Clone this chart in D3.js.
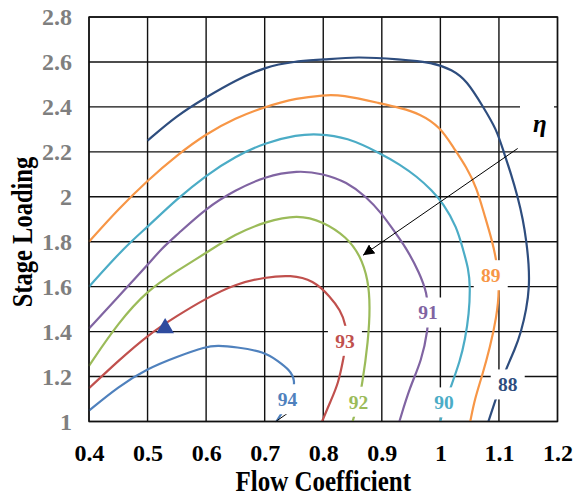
<!DOCTYPE html>
<html>
<head>
<meta charset="utf-8">
<script src="https://cdn.jsdelivr.net/npm/d3@7"></script>
<style>
  body { margin: 0; background: #fff; }
  text { font-family: "Liberation Serif", "Times New Roman", serif; font-weight: bold; }
</style>
</head>
<body>
<svg width="578" height="496"></svg>
<script>
// tick values / labels
const xTicks = [0.4, 0.5, 0.6, 0.7, 0.8, 0.9, 1.0, 1.1, 1.2];
const xTickLabels = ['0.4', '0.5', '0.6', '0.7', '0.8', '0.9', '1', '1.1', '1.2'];
const yTicks = [1, 1.2, 1.4, 1.6, 1.8, 2, 2.2, 2.4, 2.6, 2.8];
const yTickLabels = ['1', '1.2', '1.4', '1.6', '1.8', '2', '2.2', '2.4', '2.6', '2.8'];

// efficiency contour lines (flow coefficient, stage loading)
const c88 = [[0.5,2.25],[0.55,2.362],[0.6,2.443],[0.65,2.518],[0.7,2.577],[0.75,2.603],[0.8,2.61],[0.857,2.624],[0.93,2.612],[0.987,2.598],[1.02,2.565],[1.045,2.518],[1.073,2.4],[1.096,2.3],[1.108,2.2],[1.121,2.1],[1.132,2.0],[1.141,1.9],[1.147,1.8],[1.151,1.7],[1.152,1.6],[1.147,1.5],[1.138,1.4],[1.127,1.318],[1.112,1.236],[1.096,1.11],[1.082,1.0]];
const c89 = [[0.4,1.8],[0.45,1.945],[0.5,2.073],[0.55,2.185],[0.6,2.28],[0.65,2.35],[0.7,2.40],[0.756,2.44],[0.8,2.452],[0.83,2.455],[0.9,2.414],[0.931,2.396],[0.965,2.37],[1.0,2.31],[1.022,2.22],[1.045,2.13],[1.062,2.04],[1.074,1.93],[1.089,1.8],[1.097,1.7],[1.101,1.584],[1.096,1.466],[1.085,1.332],[1.071,1.2],[1.059,1.103],[1.051,1.0]];
const c90 = [[0.4,1.6],[0.461,1.777],[0.5,1.866],[0.55,1.99],[0.6,2.096],[0.65,2.18],[0.7,2.24],[0.756,2.276],[0.79,2.28],[0.84,2.266],[0.9,2.19],[0.93,2.145],[0.96,2.09],[0.985,2.03],[1.005,1.97],[1.028,1.866],[1.039,1.762],[1.048,1.68],[1.051,1.6],[1.049,1.48],[1.042,1.362],[1.034,1.273],[1.018,1.155],[1.005,1.06],[1.0,1.0]];
const c91 = [[0.4,1.414],[0.45,1.555],[0.5,1.696],[0.524,1.77],[0.55,1.83],[0.6,1.95],[0.65,2.03],[0.7,2.09],[0.756,2.118],[0.8,2.103],[0.84,2.066],[0.874,1.999],[0.9,1.925],[0.92,1.851],[0.94,1.78],[0.965,1.659],[0.977,1.57],[0.98,1.49],[0.979,1.414],[0.968,1.27],[0.948,1.155],[0.93,1.0]];
const c92 = [[0.4,1.248],[0.45,1.44],[0.5,1.584],[0.55,1.67],[0.6,1.75],[0.65,1.835],[0.7,1.888],[0.756,1.922],[0.8,1.89],[0.84,1.821],[0.863,1.74],[0.877,1.629],[0.88,1.51],[0.877,1.362],[0.866,1.155],[0.86,1.085],[0.85,1.0]];
const c93 = [[0.4,1.148],[0.45,1.27],[0.5,1.384],[0.55,1.47],[0.6,1.548],[0.65,1.612],[0.7,1.642],[0.745,1.652],[0.783,1.629],[0.812,1.555],[0.829,1.496],[0.839,1.429],[0.84,1.36],[0.835,1.288],[0.826,1.17],[0.812,1.088],[0.798,1.0]];
const c94 = [[0.4,1.048],[0.45,1.155],[0.5,1.236],[0.55,1.288],[0.6,1.334],[0.62,1.338],[0.65,1.332],[0.7,1.31],[0.722,1.27],[0.743,1.229],[0.752,1.184],[0.748,1.12],[0.731,1.044],[0.72,1.0]];

const contours = [
  { level: '88', color: '#2E4D7E', pts: c88, label: [1.115, 1.165] },
  { level: '89', color: '#F79646', pts: c89, label: [1.086, 1.651] },
  { level: '90', color: '#4BACC6', pts: c90, label: [1.006, 1.085] },
  { level: '91', color: '#8064A2', pts: c91, label: [0.979, 1.485] },
  { level: '92', color: '#9BBB59', pts: c92, label: [0.86, 1.088] },
  { level: '93', color: '#C0504D', pts: c93, label: [0.837, 1.359] },
  { level: '94', color: '#4F81BD', pts: c94, label: [0.739, 1.099] }
];

// design point, arrow and leader
const designPoint = [[0.53, 1.415]];
const arrowLine = [[1.132, 2.215], [0.868, 1.74]];
const leader94 = [[0.743, 1.044], [0.719, 1.0]];
const etaPos = [1.17, 2.29];

const svg = d3.select('svg');
const pLeft = 89, pRight = 557.5, pTop = 17, pBottom = 421.5;

const x = d3.scaleLinear().domain([0.4, 1.2]).range([pLeft, pRight]);
const y = d3.scaleLinear().domain([1, 2.8]).range([pBottom, pTop]);

// grid
svg.append('g').selectAll('line')
  .data(xTicks)
  .enter()
  .append('line')
    .attr('x1', d => x(d)).attr('x2', d => x(d))
    .attr('y1', pTop).attr('y2', pBottom)
    .attr('stroke', '#111').attr('stroke-width', 1.4);

svg.append('g').selectAll('line')
  .data(yTicks)
  .enter()
  .append('line')
    .attr('x1', pLeft).attr('x2', pRight)
    .attr('y1', d => y(d)).attr('y2', d => y(d))
    .attr('stroke', '#111').attr('stroke-width', 1.4);

// contours
let line = d3.line()
  .x(d => x(d[0]))
  .y(d => y(d[1]))
  .curve(d3.curveBasis);

svg.append('g').selectAll('path')
  .data(contours)
  .enter()
  .append('path')
    .attr('d', d => line(d.pts))
    .attr('fill', 'none')
    .attr('stroke', d => d.color)
    .attr('stroke-width', 2.2);

// arrow
svg.append('defs').append('marker')
  .attr('id', 'arr')
  .attr('viewBox', '0 0 10 10')
  .attr('refX', 10).attr('refY', 5)
  .attr('markerWidth', 11).attr('markerHeight', 11)
  .attr('markerUnits', 'userSpaceOnUse')
  .attr('orient', 'auto')
  .append('path')
    .attr('d', 'M0,0 L10,5 L0,10 z')
    .attr('fill', '#000');

let straight = d3.line().x(d => x(d[0])).y(d => y(d[1]));

svg.append('path')
  .attr('d', straight(arrowLine))
  .attr('stroke', '#000').attr('stroke-width', 1)
  .attr('marker-end', 'url(#arr)');

svg.append('path')
  .attr('d', straight(leader94))
  .attr('stroke', '#000').attr('stroke-width', 1);

// contour labels with white boxes
let lab = svg.append('g').selectAll('g')
  .data(contours)
  .enter()
  .append('g')
    .attr('transform', d => `translate(${x(d.label[0])},${y(d.label[1])})`);

lab.append('rect')
  .attr('x', -17).attr('y', -15)
  .attr('width', 34).attr('height', 30)
  .attr('fill', '#fff');

lab.append('text')
  .attr('text-anchor', 'middle')
  .attr('dy', '0.35em')
  .attr('font-size', 19.5)
  .attr('fill', d => d.color)
  .text(d => d.level);

// eta label
svg.append('rect')
  .attr('x', 520).attr('y', 100)
  .attr('width', 34).attr('height', 47)
  .attr('fill', '#fff');

svg.append('text')
  .attr('x', x(etaPos[0]))
  .attr('y', y(etaPos[1]))
  .attr('text-anchor', 'middle')
  .attr('font-size', 25)
  .attr('font-style', 'italic')
  .text('η');

// border
svg.append('rect')
  .attr('x', pLeft).attr('y', pTop)
  .attr('width', pRight - pLeft).attr('height', pBottom - pTop)
  .attr('fill', 'none').attr('stroke', '#111').attr('stroke-width', 1.4);

// design point marker
svg.append('g').selectAll('path')
  .data(designPoint)
  .enter()
  .append('path')
    .attr('transform', d => `translate(${x(d[0])},${y(d[1])})`)
    .attr('d', d3.symbol().type(d3.symbolTriangle).size(135))
    .attr('fill', '#2F4B9E');

// axes
let xAxis = svg.append('g')
  .attr('transform', `translate(0,${pBottom})`)
  .call(d3.axisBottom(x)
    .tickValues(xTicks)
    .tickSize(0)
    .tickPadding(22)
    .tickFormat((d, i) => xTickLabels[i]));
xAxis.select('.domain').remove();
xAxis.selectAll('text')
  .attr('font-size', 24)
  .attr('font-family', '"Liberation Serif", serif')
  .attr('font-weight', 'bold')
  .attr('fill', '#000');

let yAxis = svg.append('g')
  .attr('transform', `translate(${pLeft},0)`)
  .call(d3.axisLeft(y)
    .tickValues(yTicks)
    .tickSize(0)
    .tickPadding(17)
    .tickFormat((d, i) => yTickLabels[i]));
yAxis.select('.domain').remove();
yAxis.selectAll('text')
  .attr('font-size', 24)
  .attr('font-family', '"Liberation Serif", serif')
  .attr('font-weight', 'bold')
  .attr('fill', '#7F7F7F');

// axis titles
svg.append('text')
  .attr('transform', `translate(${(pLeft + pRight) / 2},491) scale(1,1.15)`)
  .attr('text-anchor', 'middle')
  .attr('font-size', 25)
  .text('Flow Coefficient');

svg.append('text')
  .attr('transform', 'translate(32,232) rotate(-90) scale(1,1.2)')
  .attr('text-anchor', 'middle')
  .attr('font-size', 24.5)
  .text('Stage Loading');
</script>
</body>
</html>
